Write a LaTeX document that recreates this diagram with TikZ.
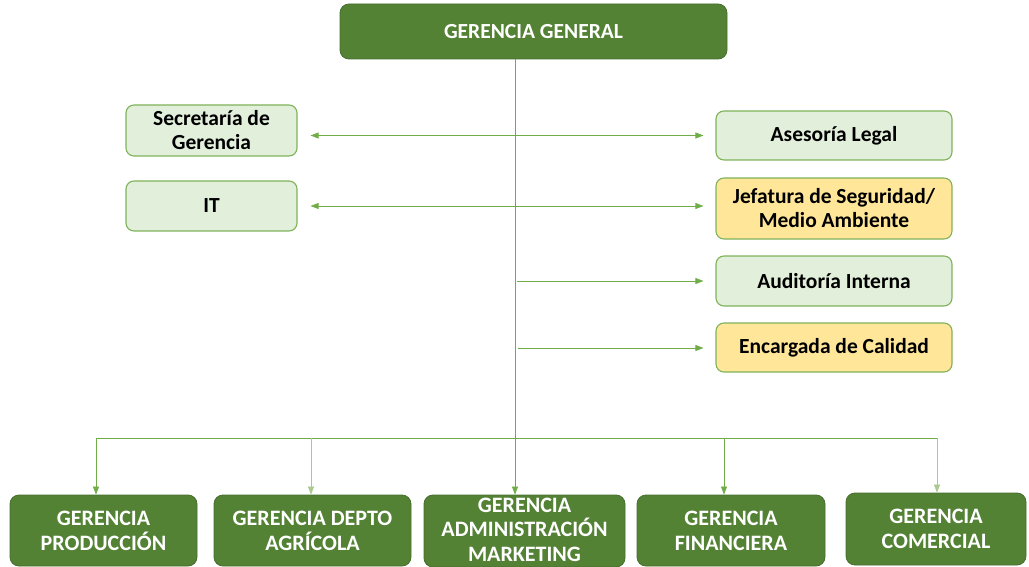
\documentclass[tikz,border=0pt]{standalone}
\usepackage{fontspec}
\setmainfont{Carlito}
\usetikzlibrary{arrows.meta}
\definecolor{dkgreen}{HTML}{548235}
\definecolor{lngreen}{HTML}{70AD47}
\definecolor{ltgreen}{HTML}{E2EFDA}
\definecolor{ltborder}{HTML}{7FB25A}
\definecolor{ltyellow}{HTML}{FFE699}
\definecolor{pale}{HTML}{A9C98F}
\tikzset{
  x=1pt, y=-1pt,
  darkbox/.style={draw=dkgreen!85!black, line width=0.8pt, fill=dkgreen, rounded corners=9pt, text=white,
    font=\fontsize{22}{25}\selectfont\bfseries, align=center, inner sep=0pt},
  lightbox/.style={draw=ltborder, line width=1.1pt, fill=ltgreen, rounded corners=8pt, text=black,
    font=\fontsize{21.5}{24}\selectfont\bfseries, align=center, inner sep=0pt},
  yellowbox/.style={lightbox, fill=ltyellow},
  link/.style={draw=lngreen, line width=0.7pt},
  tip/.style={-{Triangle[length=8pt,width=6pt]}},
  dtip/.style={{Triangle[length=8pt,width=6pt]}-{Triangle[length=8pt,width=6pt]}},
}
\begin{document}
\begin{tikzpicture}
\useasboundingbox (0,0) rectangle (1029,567);
% top
\node[darkbox, minimum width=387pt, minimum height=55pt, font=\fontsize{21.5}{24}\selectfont\bfseries] (gg) at (533.5,31.5) {GERENCIA GENERAL};
% left staff
\node[lightbox, minimum width=171pt, minimum height=51pt] (sec) at (211.5,130.5) {Secretaría de\\Gerencia};
\node[lightbox, minimum width=171pt, minimum height=50pt] (it) at (211.5,206) {IT};
% right staff
\node[lightbox, minimum width=236pt, minimum height=49pt] (al) at (834,135.5) {Asesoría Legal};
\node[yellowbox, minimum width=236pt, minimum height=61pt] (js) at (834,208.5) {Jefatura de Seguridad/\\Medio Ambiente};
\node[lightbox, minimum width=236pt, minimum height=50pt] (ai) at (834,281) {Auditoría Interna};
\node[yellowbox, minimum width=236pt, minimum height=49pt] (ec) at (834,347.5) {Encargada de Calidad};
% bottom
\node[darkbox, minimum width=187pt, minimum height=71pt] (prod) at (103.5,530.5) {GERENCIA\\PRODUCCIÓN};
\node[darkbox, minimum width=197pt, minimum height=71pt] (agr) at (312.5,530.5) {GERENCIA DEPTO\\AGRÍCOLA};
\node[darkbox, minimum width=201pt, minimum height=72pt] (adm) at (524.5,531) {};
\node[text=white, font=\fontsize{22}{24.5}\selectfont\bfseries, align=center, inner sep=0pt] (admt) at (524.5,529.5) {GERENCIA\\ADMINISTRACIÓN\\MARKETING};
\node[darkbox, minimum width=188pt, minimum height=71pt] (fin) at (731,530.5) {GERENCIA\\FINANCIERA};
\node[darkbox, minimum width=180pt, minimum height=72pt] (com) at (936,529) {GERENCIA\\COMERCIAL};
% trunk
\draw[link, tip] (gg.south -| 515,0) -- (adm.north -| 515,0);
% staff arrows
\draw[link, dtip, shorten <=13pt, shorten >=12pt] (sec.east |- al.west) -- (al.west);
\draw[link, dtip, shorten <=13pt, shorten >=12pt] (it.east) -- (it.east -| js.west);
\coordinate (a1) at (517,281);
\coordinate (a2) at (518,348);
\draw[link, tip, shorten >=12pt] (a1) -- (a1 -| ai.west);
\draw[link, tip, shorten >=12pt] (a2) -- (a2 -| ec.west);
% bus
\coordinate (b1) at (96,438);
\coordinate (b2) at (311,438);
\coordinate (b4) at (724,438);
\coordinate (b5) at (937,438);
\draw[link] (b1) -- (b5);
\draw[link, tip] (b1) -- (b1 |- prod.north);
\draw[link, draw=pale, tip] (b2) -- (b2 |- agr.north);
\draw[link, tip] (b4) -- (b4 |- fin.north);
\draw[link, draw=pale, tip] (b5) -- (b5 |- com.north);
\end{tikzpicture}
\end{document}
